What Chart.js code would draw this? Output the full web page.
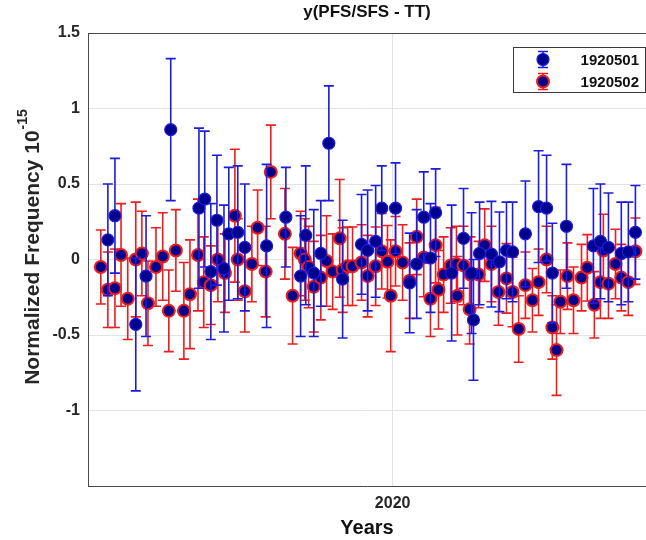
<!DOCTYPE html>
<html>
<head>
<meta charset="utf-8">
<script src="https://cdn.jsdelivr.net/npm/chart.js@4.4.1/dist/chart.umd.min.js"></script>
<style>
  html, body { margin: 0; padding: 0; background: #fff; }
</style>
</head>
<body>
<canvas id="chart" width="646" height="540"></canvas>
<script>
// decimal years, value, error (units of 1e-15)
const blueX = [2019.112, 2019.134, 2019.199, 2019.231, 2019.308, 2019.396, 2019.414, 2019.433, 2019.452, 2019.474,
  2019.489, 2019.517, 2019.539, 2019.607, 2019.667, 2019.713, 2019.729, 2019.754, 2019.776, 2019.801,
  2019.844, 2019.903, 2019.922, 2019.947, 2019.966, 2020.009, 2020.053, 2020.075, 2020.097, 2020.118,
  2020.134, 2020.184, 2020.221, 2020.246, 2020.252, 2020.271, 2020.308, 2020.333, 2020.355, 2020.374,
  2020.414, 2020.455, 2020.480, 2020.498, 2020.542, 2020.626, 2020.648, 2020.673, 2020.713, 2020.735, 2020.757];
const blueY = [0.13, 0.29, -0.43, -0.11, 0.86, 0.34, 0.40, -0.08, 0.26, -0.06,
  0.17, 0.18, 0.08, 0.09, 0.28, -0.11, 0.16, -0.09, 0.04, 0.77,
  -0.13, 0.10, 0.06, 0.12, 0.34, 0.34, -0.155, -0.03, 0.28, 0.01,
  0.31, -0.09, 0.14, -0.09, -0.40, 0.04, 0.035, -0.015, 0.06, 0.05,
  0.17, 0.35, 0.34, -0.09, 0.22, 0.09, 0.12, 0.08, 0.04, 0.05, 0.18];
const blueErr = [0.37, 0.38, 0.44, 0.40, 0.47, 0.53, 0.45, 0.45, 0.43, 0.42,
  0.44, 0.44, 0.42, 0.54, 0.33, 0.40, 0.46, 0.42, 0.35, 0.38,
  0.39, 0.33, 0.40, 0.37, 0.28, 0.30, 0.33, 0.36, 0.30, 0.36,
  0.29, 0.45, 0.33, 0.40, 0.40, 0.34, 0.35, 0.33, 0.32, 0.33,
  0.35, 0.37, 0.35, 0.33, 0.41, 0.38, 0.38, 0.36, 0.34, 0.33, 0.31];

const redX = [2019.090, 2019.112, 2019.134, 2019.153, 2019.174, 2019.199, 2019.218, 2019.237, 2019.262, 2019.283,
  2019.302, 2019.324, 2019.349, 2019.368, 2019.393, 2019.411, 2019.433, 2019.455, 2019.477, 2019.508,
  2019.517, 2019.539, 2019.561, 2019.579, 2019.604, 2019.620, 2019.664, 2019.688, 2019.713, 2019.726,
  2019.738, 2019.754, 2019.776, 2019.794, 2019.813, 2019.835, 2019.844, 2019.860, 2019.875, 2019.903,
  2019.922, 2019.947, 2019.966, 2019.984, 2019.994, 2020.009, 2020.031, 2020.053, 2020.075, 2020.097,
  2020.118, 2020.134, 2020.143, 2020.159, 2020.181, 2020.199, 2020.202, 2020.221, 2020.240, 2020.243,
  2020.268, 2020.287, 2020.308, 2020.330, 2020.355, 2020.374, 2020.393, 2020.414, 2020.436, 2020.455,
  2020.480, 2020.498, 2020.511, 2020.523, 2020.545, 2020.564, 2020.589, 2020.607, 2020.629, 2020.648,
  2020.657, 2020.673, 2020.695, 2020.713, 2020.735, 2020.757];
const redY = [-0.05, -0.20, -0.19, 0.03, -0.26, 0.00, 0.04, -0.29, -0.05, 0.02,
  -0.34, 0.06, -0.34, -0.23, 0.03, -0.15, -0.17, 0.00, -0.09, 0.29,
  0.00, -0.21, -0.03, 0.21, -0.08, 0.58, 0.17, -0.24, 0.04, 0.00,
  -0.05, -0.18, -0.12, -0.01, -0.08, 0.14, -0.07, -0.045, -0.045, -0.02,
  -0.11, -0.045, 0.055, -0.015, -0.24, 0.055, -0.02, -0.14, 0.15, 0.013,
  -0.26, 0.095, -0.20, -0.10, -0.04, -0.03, -0.24, -0.04, -0.33, -0.10,
  -0.10, 0.095, -0.03, -0.215, -0.125, -0.215, -0.46, -0.17, -0.27, -0.15,
  0.00, -0.45, -0.60, -0.28, -0.11, -0.27, -0.12, -0.055, -0.30, -0.15,
  0.06, -0.16, -0.03, -0.12, -0.15, 0.055];
const redErr = [0.245, 0.25, 0.26, 0.34, 0.27, 0.38, 0.28, 0.28, 0.26, 0.29,
  0.27, 0.27, 0.32, 0.36, 0.37, 0.30, 0.26, 0.28, 0.26, 0.44,
  0.27, 0.27, 0.25, 0.25, 0.30, 0.31, 0.30, 0.32, 0.28, 0.27,
  0.27, 0.30, 0.28, 0.30, 0.25, 0.39, 0.28, 0.26, 0.26, 0.25,
  0.27, 0.26, 0.25, 0.24, 0.37, 0.23, 0.25, 0.25, 0.25, 0.26,
  0.25, 0.25, 0.26, 0.25, 0.25, 0.25, 0.26, 0.26, 0.23, 0.25,
  0.22, 0.24, 0.25, 0.22, 0.23, 0.23, 0.22, 0.22, 0.21, 0.22,
  0.22, 0.21, 0.30, 0.21, 0.22, 0.22, 0.22, 0.22, 0.22, 0.24,
  0.24, 0.23, 0.23, 0.22, 0.22, 0.22];

const seriesNames = ['1920501', '1920502'];
const xTicks = [2020];
const yTicks = [-1, -0.5, 0, 0.5, 1, 1.5];
const chartTitle = 'y(PFS/SFS - TT)';
const xTitle = 'Years';
const yTitle = 'Normalized Frequency 10';
const yTitleExp = '-15';

const FONT = 'Arial, "Liberation Sans", Helvetica, sans-serif';
const textColor = '#262626';
const axisColor = '#4a4a4a';
const gridColor = '#e3e3e3';
const markerFill = '#00008f';
const blueBar = '#1c1ce0';
const redBar = '#ee1c1c';

const toPoints = (xs, ys, es) => xs.map((x, i) => ({ x: x, y: ys[i], err: es[i] }));

function drawErrorBar(ctx, px, top, bot, cap) {
    ctx.beginPath();
    ctx.moveTo(px, top); ctx.lineTo(px, bot);
    ctx.moveTo(px - cap, top); ctx.lineTo(px + cap, top);
    ctx.moveTo(px - cap, bot); ctx.lineTo(px + cap, bot);
    ctx.stroke();
}

// error bars go under each series' own markers
const errorBars = {
    id: 'errorBars',
    beforeDatasetDraw(chart, args) {
        const ds = chart.data.datasets[args.index];
        const xs = chart.scales.x;
        const ys = chart.scales.y;
        const ctx = chart.ctx;
        ctx.save();
        ctx.strokeStyle = ds.barColor;
        ctx.lineWidth = 1.6;
        ds.data.forEach(p => {
            const px = xs.getPixelForValue(p.x);
            drawErrorBar(ctx, px, ys.getPixelForValue(p.y + p.err), ys.getPixelForValue(p.y - p.err), 5);
        });
        ctx.restore();
    }
};

// box top line, y title with exponent, legend box
const decorations = {
    id: 'decorations',
    afterDraw(chart) {
        const ctx = chart.ctx;
        const a = chart.chartArea;
        ctx.save();
        ctx.strokeStyle = axisColor;
        ctx.lineWidth = 1;
        ctx.beginPath();
        ctx.moveTo(a.left, a.top + 0.5);
        ctx.lineTo(a.right, a.top + 0.5);
        ctx.stroke();

        // y title
        ctx.fillStyle = textColor;
        const mainFont = 'bold 21px ' + FONT;
        const expFont = 'bold 14px ' + FONT;
        ctx.font = mainFont;
        const w1 = ctx.measureText(yTitle).width;
        ctx.font = expFont;
        const w2 = ctx.measureText(yTitleExp).width;
        const cy = (a.top + a.bottom) / 2 - 12;
        ctx.translate(33, cy);
        ctx.rotate(-Math.PI / 2);
        ctx.textBaseline = 'middle';
        ctx.textAlign = 'left';
        ctx.font = mainFont;
        ctx.fillText(yTitle, -(w1 + w2) / 2, 0);
        ctx.font = expFont;
        ctx.fillText(yTitleExp, -(w1 + w2) / 2 + w1 + 1, -10);
        ctx.restore();

        // legend
        ctx.save();
        const bx = 513, by = 47, bw = 132, bh = 45;
        ctx.fillStyle = '#fff';
        ctx.fillRect(bx, by, bw, bh);
        ctx.strokeStyle = '#3a3a3a';
        ctx.lineWidth = 1;
        ctx.strokeRect(bx + 0.5, by + 0.5, bw, bh);
        chart.data.datasets.forEach((ds, i) => {
            const ly = by + 12.5 + i * 22;
            const lx = bx + 30;
            ctx.strokeStyle = ds.barColor;
            ctx.lineWidth = 1.6;
            drawErrorBar(ctx, lx, ly - 8, ly + 8, 5);
            ctx.beginPath();
            ctx.arc(lx, ly, 6, 0, Math.PI * 2);
            ctx.fillStyle = ds.backgroundColor;
            ctx.fill();
            ctx.lineWidth = ds.borderWidth;
            ctx.strokeStyle = ds.borderColor;
            ctx.stroke();
            ctx.fillStyle = '#111';
            ctx.font = 'bold 15px ' + FONT;
            ctx.textAlign = 'right';
            ctx.textBaseline = 'middle';
            ctx.fillText(ds.label, bx + bw - 6, ly + 1);
        });
        ctx.restore();
    }
};

const ctx = document.getElementById('chart').getContext('2d');

const chart = new Chart(ctx, {
    type: 'scatter',
    data: {
        datasets: [{
            label: seriesNames[0],
            data: toPoints(blueX, blueY, blueErr),
            backgroundColor: markerFill,
            borderColor: blueBar,
            borderWidth: 1.2,
            pointRadius: 6,
            barColor: blueBar,
        }, {
            label: seriesNames[1],
            data: toPoints(redX, redY, redErr),
            backgroundColor: markerFill,
            borderColor: redBar,
            borderWidth: 2,
            pointRadius: 6,
            barColor: redBar,
        }]
    },
    options: {
        responsive: false,
        animation: false,
        layout: { autoPadding: false, padding: { left: 0, right: 0, top: 0, bottom: 0 } },
        plugins: {
            legend: { display: false },
            tooltip: { enabled: false },
            title: {
                display: true,
                text: chartTitle,
                fullSize: false,
                color: '#111',
                font: { family: FONT, size: 17, weight: 'bold' },
                padding: { top: 2, bottom: 10.6 },
            },
        },
        scales: {
            x: {
                type: 'linear',
                min: 2019.05,
                max: 2020.79,
                afterBuildTicks: s => { s.ticks = xTicks.map(v => ({ value: v })); },
                afterFit: s => { s.height = 54; },
                ticks: {
                    callback: v => String(v),
                    color: textColor,
                    font: { family: FONT, size: 16, weight: 'bold' },
                    padding: 8,
                    maxRotation: 0,
                },
                grid: { color: gridColor, drawTicks: false },
                border: { color: axisColor, width: 1 },
                title: {
                    display: true,
                    text: xTitle,
                    color: '#111',
                    font: { family: FONT, size: 20, weight: 'bold' },
                    padding: { top: 0, bottom: 0 },
                },
            },
            y: {
                min: -1.5,
                max: 1.5,
                afterBuildTicks: s => { s.ticks = [-1.5].concat(yTicks).map(v => ({ value: v })); },
                afterFit: s => { s.width = 88; },
                ticks: {
                    callback: v => (v === -1.5 ? '' : String(v)),
                    color: textColor,
                    font: { family: FONT, size: 16, weight: 'bold' },
                    padding: 8,
                },
                grid: { color: gridColor, drawTicks: false },
                border: { color: axisColor, width: 1 },
            },
        },
    },
    plugins: [errorBars, decorations],
});
</script>
</body>
</html>
